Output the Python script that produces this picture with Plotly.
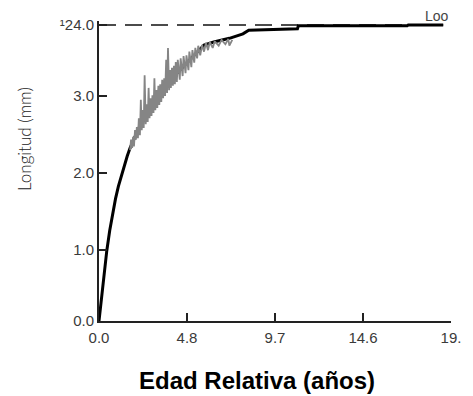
import plotly.graph_objects as go

# Growth curve (age in years, length in mm)
curve_age = [0.0, 0.11, 0.21, 0.32, 0.43, 0.59, 0.75, 0.91, 1.07, 1.24, 1.40, 1.56, 1.72,
             1.93, 2.20, 2.74, 3.54, 4.35, 5.16, 5.80, 6.34, 7.20, 7.95, 8.27, 10.96, 11.01,
             17.02, 17.08, 19.01]
curve_len = [0.0, 0.26, 0.50, 0.73, 0.95, 1.22, 1.45, 1.65, 1.82, 1.97, 2.11, 2.23, 2.34,
             2.46, 2.61, 2.82, 3.12, 3.36, 3.57, 3.73, 3.77, 3.82, 3.88, 3.93, 3.95, 3.99,
             3.99, 4.00, 4.00]

# Observed lengths (grey band)
obs_age = [1.72, 1.77, 1.83, 1.88, 1.93, 1.99, 2.04, 2.09, 2.15, 2.20,
           2.26, 2.31, 2.36, 2.42, 2.47, 2.52, 2.58, 2.63, 2.69, 2.74,
           2.79, 2.85, 2.90, 2.95, 3.01, 3.06, 3.11, 3.17, 3.22, 3.28,
           3.33, 3.38, 3.44, 3.49, 3.54, 3.60, 3.65, 3.71, 3.76, 3.81,
           3.87, 3.92, 3.97, 4.03, 4.08, 4.14, 4.19, 4.24, 4.30, 4.35,
           4.46, 4.51, 4.62, 4.67, 4.78, 4.83, 4.94, 4.99, 5.10, 5.16,
           5.26, 5.32, 5.42, 5.48, 5.59, 5.69, 5.80, 5.91, 6.02, 6.12,
           6.28, 6.39, 6.61, 6.77, 6.98, 7.14, 7.20, 7.36]
obs_len = [2.31, 2.45, 2.34, 2.49, 2.36, 2.58, 2.45, 2.62, 2.47, 2.74,
           2.51, 2.99, 2.58, 2.85, 2.61, 3.32, 2.66, 2.93, 2.69, 3.15,
           2.74, 3.01, 2.77, 3.05, 2.81, 3.28, 2.85, 3.12, 2.88, 3.18,
           2.92, 3.20, 2.96, 3.26, 3.01, 3.28, 3.04, 3.53, 3.08, 3.69,
           3.12, 3.39, 3.15, 3.42, 3.18, 3.45, 3.20, 3.50, 3.23, 3.53,
           3.26, 3.55, 3.31, 3.58, 3.35, 3.59, 3.39, 3.64, 3.43, 3.66,
           3.49, 3.69, 3.55, 3.72, 3.59, 3.73, 3.64, 3.76, 3.66, 3.77,
           3.69, 3.78, 3.72, 3.80, 3.74, 3.81, 3.72, 3.80]

loo = 4.0
x_ticks = [0.0, 4.86, 9.72, 14.58, 19.44]
x_tick_text = ["0.0", "4.8", "9.7", "14.6", "19."]
y_ticks = [0.0, 0.96, 2.0, 3.04, 4.0]
y_tick_text = ["0.0", "1.0", "2.0", "3.0", "¹24.0"]

fig = go.Figure()
fig.add_trace(go.Scatter(x=[0, 19.01], y=[loo, loo], mode="lines",
                         line=dict(color="#111111", width=1.3, dash="17px,9px"),
                         hoverinfo="skip", showlegend=False))
fig.add_trace(go.Scatter(x=curve_age, y=curve_len, mode="lines",
                         line=dict(color="#000000", width=3), showlegend=False))
fig.add_trace(go.Scatter(x=obs_age, y=obs_len, mode="lines",
                         line=dict(color="#858585", width=1.8), showlegend=False))

font_tick = dict(family="Liberation Sans, Arial", size=15, color="#3a3a3a")
fig.update_layout(
    width=473, height=396,
    margin=dict(l=99, r=12, t=21, b=75),
    plot_bgcolor="white", paper_bgcolor="white",
    xaxis=dict(range=[0, 19.44], tickvals=x_ticks, ticktext=x_tick_text,
               showgrid=False, zeroline=False, showline=True, linecolor="#222222",
               linewidth=2, ticks="inside", ticklen=8, tickwidth=1.5, tickcolor="#222222",
               tickfont=font_tick, ticklabelstandoff=2),
    yaxis=dict(range=[0, 4.054], tickvals=y_ticks, ticktext=y_tick_text,
               showgrid=False, zeroline=False, showline=True, linecolor="#222222",
               linewidth=2, ticks="inside", ticklen=8, tickwidth=1.5, tickcolor="#222222",
               tickfont=font_tick),
    annotations=[
        dict(text="<b>Edad Relativa (años)</b>", xref="paper", yref="paper",
             x=0.45, y=(321 - 380) / 300, xanchor="center", yanchor="middle",
             showarrow=False, borderpad=0,
             font=dict(family="Liberation Sans, Arial", size=24, color="#000000")),
        dict(text="Longitud (mm)", xref="paper", yref="paper", textangle=-90,
             x=-0.21, y=0.607, xanchor="center", yanchor="middle", showarrow=False,
             font=dict(family="Lato, Roboto", size=17, color="#222222", weight=300)),
        dict(text="Loo", xref="x", yref="paper", x=18.69, y=1.017,
             xanchor="center", yanchor="middle", showarrow=False,
             font=dict(family="Liberation Sans, Arial", size=14, color="#444444")),
    ],
)
fig.write_html("out.html")
